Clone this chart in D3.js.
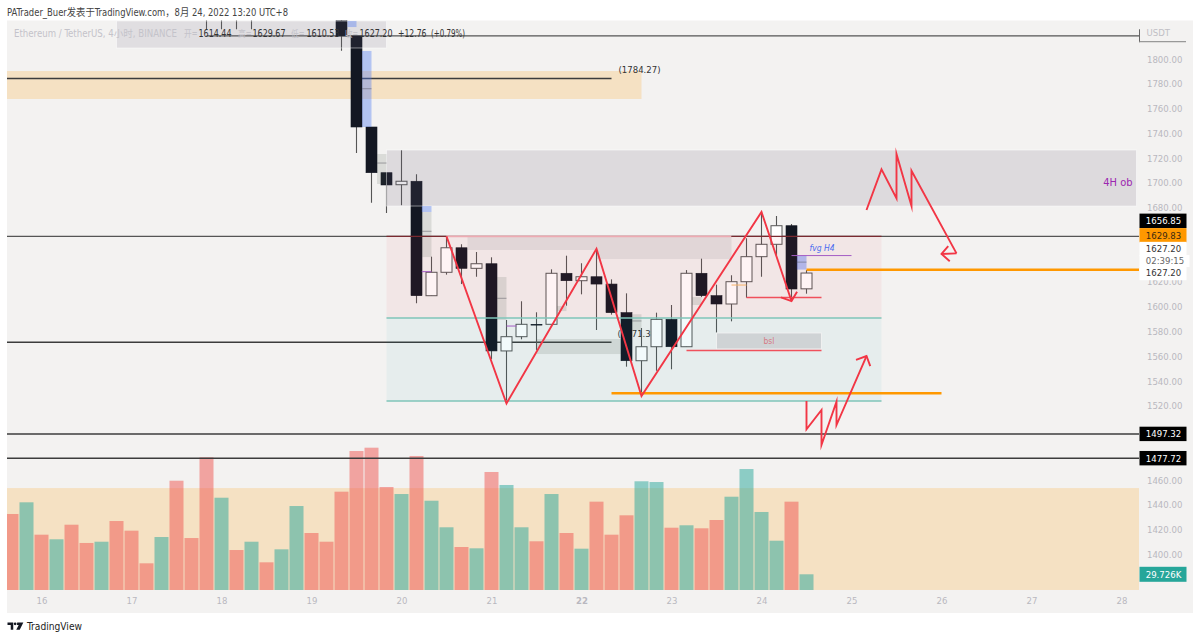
<!DOCTYPE html>
<html><head><meta charset="utf-8">
<script src="https://cdn.jsdelivr.net/npm/d3@7"></script>
<style>html,body{margin:0;padding:0;background:#fff}svg{display:block}text{font-family:"DejaVu Sans Condensed","DejaVu Sans","Noto Sans CJK SC",sans-serif;font-stretch:condensed}</style>
</head><body><svg id="c" width="1200" height="640"></svg>
<script>
// ---------- data ----------
const dayLabels = [16,17,18,19,20,21,22,23,24,25,26,27,28];
const dayIndex  = [0,6,12,18,24,30,36,42,48,54,60,66,72];
const priceTicks = [1800,1780,1760,1740,1720,1700,1680,1620,1600,1580,1560,1540,1520,1460,1440,1420,1400];

const candleIndex = [11,12,13,14,20,21,22,23,24,25,26,27,28,29,30,31,32,33,34,35,36,37,38,39,40,41,42,43,44,45,46,47,48,49,50,51];
const opens  = [1860,1860,1860,1860,1840,1818.6,1745.1,1708.2,1698.5,1701.3,1608.9,1627.8,1647.6,1631,1634.7,1564.3,1575.8,1585.8,1585.8,1627,1621,1624.2,1618.3,1595.2,1556.4,1567.7,1589.8,1567.7,1627,1608.9,1602.2,1620.2,1640.4,1650.4,1665.4,1614.44];
const closes = [1845,1850,1845,1850,1818.6,1745.1,1708.2,1698.3,1701.3,1608.9,1627.8,1647.6,1631,1634.7,1564.3,1575.8,1585.8,1585.4,1627,1621,1624.2,1618.3,1595.2,1556.4,1567.7,1589.8,1567.7,1627,1608.9,1602.2,1620.2,1640.4,1650.4,1665.4,1614.3,1627.2];
const highs  = [1870,1870,1870,1870,1850,1818.6,1745.1,1708.2,1726.5,1706.9,1640.4,1656.5,1650.4,1644.2,1639.9,1589.3,1604.4,1595.5,1630.2,1641.2,1635.1,1646.8,1622.1,1610.8,1582.8,1595.2,1601.4,1629.6,1638.8,1617.8,1625.4,1655.2,1676.7,1673.2,1666.8,1629.67];
const lows   = [1824,1824,1824,1824,1806.7,1724.1,1684,1675.7,1681.9,1602.8,1608.9,1625.9,1618.3,1624.2,1557.6,1522,1573.7,1565.1,1585.8,1600.8,1610,1581.2,1593.6,1551.6,1528.7,1548.3,1549.5,1567.7,1607.8,1579,1588.2,1607.3,1624.2,1641.8,1605.4,1610.53];

const volIndex = d3.range(-2,52);
const volumes = [143.9,166,104.7,96,123.6,89,91.4,130.6,112.3,50.5,100.3,206.9,98.4,251.2,174.7,75.7,91.4,52.4,77,159,107.9,91.4,186.1,263.1,269.4,195,181.7,253.7,169,118.7,81.4,78.9,223.4,198.8,118.7,92.2,181.7,107.9,78.2,167.2,104.7,141.4,205.8,204.4,117.9,122.5,116.8,132.5,176.6,229,147.7,93.3,167.2,29.726];
const volUp = [0,1,0,1,0,0,1,0,0,0,1,0,0,0,1,0,1,0,1,1,0,0,0,0,0,0,1,0,1,1,0,1,0,1,1,0,1,0,1,0,0,0,1,1,0,1,0,0,1,1,1,1,0,1];

// legend pieces: text, left edge, width
const legendText  = ["Ethereum / TetherUS, 4小时, BINANCE","开=","1614.44","高=","1629.67","低=","1610.53","收=","1627.20","+12.76","(+0.79%)"];
const legendLeft  = [14,184,198.5,238,252.5,291,306.5,345,359.5,398,431];
const legendWidth = [163,13.5,33,13.5,33,13.5,33,13,33,28.5,34];

// annotation zones: [i0, i1, priceTop, priceBottom]
const zoneBand1784 = [-2.3,40,1790.3,1767.7];
const zoneVolume   = [-2.3,73.2,1453.6,1371.3];
const zoneLegend   = [5,23,1830.7,1808.9];
const zone4H       = [23,73,1726.5,1681.3];
const zonePink     = [23,56,1656.7,1590.9];
const zoneTeal     = [23,56,1590.9,1523.9];
const zoneBsl      = [45,52,1578.8,1565.9];
const greyBoxes = [[22.37,23,1723.3,1699.1],[25.35,26,1676.5,1640.1],[30.37,31,1624,1589.3],[34.37,35,1600.6,1596.5],[33,38.63,1573.9,1561.8],[39.37,40,1593.9,1581.2],[43.37,44,1607.8,1601.4]];
const greyMids  = [[22.37,23,1716],[25.35,26,1660.9],[30.37,31,1606.8],[39.37,40,1588.5],[50.35,51,1636],[21.37,22,1776]];
const pinkBoxes = [[28.4,46,1656.7,1645.8],[37,46,1645.8,1638.5]];
const blueBoxes = [[20.4,21,1830.7,1825.8],[21.37,22,1806.5,1745.1],[25.35,26,1681.3,1676.5]];
const fvgBox    = [50.35,51,1641.3,1630];
const purpleLines = [[25.35,26,1628.3],[31,31.67,1584.4],[50,54,1641.3]];

// horizontal levels: [i0, i1, price]
const hThin  = [[-2.3,73.2,1656.85]];
const hThick = [[-2.3,38,1571.36],[-2.3,38,1784.27],[-2.3,73.2,1497.32],[-2.3,73.2,1477.72]];
const hTop   = [[11,73.2,1818.6]];
const hOrange= [[51,73.2,1629.83],[38,60,1530.1]];
const hOrangeShort = [[46,47,1617.5]];
const hRed   = [[47,52,1607.4],[43,52,1564.6]];

// hand-drawn paths: [i, price]
const pathM = [[27,1656.85],[31,1521.9],[37,1646.8],[40,1527.9],[48,1676.5],[50,1604.6]];
const arrowM = [[49.3,1607.6],[50,1604.6],[50.37,1612.1]];
const pathUp = [[55,1678.1],[56,1710.9],[57,1687.5],[57,1723.3],[58,1681.3],[58,1709.8],[61,1643.1]];
const arrowUp = [[60.45,1649],[60,1642.6],[60.55,1636.7]];
const arrowUp2 = [[60,1642.6],[61,1643.1]];
const pathLow = [[51,1523.9],[51,1501],[52,1516.6],[52,1488.4],[53,1523.3],[53,1504.5],[55,1560.2]];
const arrowLow = [[54.3,1557],[55,1560.2],[55.25,1552.1]];

// right-hand price tags: price shown, offset from its level, fill, text colour
const tagLabels = ["1656.85","1629.83","1627.20","1627.20","1497.32","1477.72"];
const tagPrices = [1656.85,1629.83,1627.2,1627.2,1497.32,1477.72];
const tagOffsets= [-15.5,-34.5,-24,0,0,0];
const tagFills  = ["#000","#ff9800","#fff","#fff","#000","#000"];
const tagText   = ["#fff","#3a2a10","#333","#333","#fff","#fff"];

// ---------- scales ----------
const x = d3.scaleLinear().domain([0,72]).range([41.5,1121.5]);
const y = d3.scaleLinear().domain([1800,1400]).range([59,554.44]);
const yVol = d3.scaleLinear().domain([0,269.4]).range([590,447.7]);

const svg = d3.select("#c");
svg.append("defs").append("clipPath").attr("id","plot").append("rect").attr("x",7).attr("y",20.5).attr("width",1132).attr("height",570);

// chart background
svg.append("rect").attr("x",7).attr("y",20.5).attr("width",1186).attr("height",592.5).attr("fill","#f3f2f1");

const plot = svg.append("g").attr("clip-path","url(#plot)");

function box(g,b,fill,stroke,sw){
  return g.append("rect").attr("x",x(b[0])).attr("y",y(b[2])).attr("width",x(b[1])-x(b[0])).attr("height",y(b[3])-y(b[2]))
    .attr("fill",fill).attr("stroke",stroke||"none").attr("stroke-width",sw||0);
}
function level(g,l,color,w){
  return g.append("line").attr("x1",x(l[0])).attr("x2",x(l[1])).attr("y1",y(l[2])).attr("y2",y(l[2])).attr("stroke",color).attr("stroke-width",w);
}
const line = d3.line().x(d=>x(d[0])).y(d=>y(d[1]));
function poly(g,pts,w){ return g.append("path").attr("d",line(pts)).attr("fill","none").attr("stroke","#f23645").attr("stroke-width",w||1.9).attr("stroke-linejoin","miter").attr("stroke-miterlimit",8); }

// band behind volume and 1784 band
box(plot,zoneVolume,"rgba(255,152,0,0.19)");
box(plot,zoneBand1784,"rgba(255,152,0,0.19)");

// volume bars
plot.selectAll("rect.vol").data(volumes).join("rect").attr("class","vol")
  .attr("x",(d,i)=>x(volIndex[i])-7).attr("width",14).attr("y",d=>yVol(d)).attr("height",d=>yVol(0)-yVol(d))
  .attr("fill",(d,i)=>volUp[i]?"rgba(38,166,154,0.5)":"rgba(239,83,80,0.5)");

// level text beneath candles
plot.append("text").attr("x",x(38)+7).attr("y",y(1784.27)-5).attr("font-size",9.5).attr("fill","#333").text("(1784.27)");
plot.append("text").attr("x",x(38)+6).attr("y",y(1571.36)-5).attr("font-size",9.5).attr("fill","#333").text("(1571.36)");

// levels beneath candles
hThin.forEach(l=>level(plot,l,"#555",1.2));
hThick.forEach(l=>level(plot,l,"#3c3c3c",1.5));
hTop.forEach(l=>level(plot,l,"#555",1.2));

// candles
const cg = plot.append("g");
candleIndex.forEach((c,i)=>{
  const up = closes[i]>=opens[i];
  cg.append("line").attr("x1",x(c)).attr("x2",x(c)).attr("y1",y(highs[i])).attr("y2",y(lows[i])).attr("stroke","#555").attr("stroke-width",1.1);
  const top=y(Math.max(opens[i],closes[i])), bot=y(Math.min(opens[i],closes[i]));
  cg.append("rect").attr("x",x(c)-5.5).attr("width",11).attr("y",top).attr("height",Math.max(bot-top,0.8))
    .attr("fill",up?"#ffffff":"#131722").attr("stroke",up?"#555":"#131722").attr("stroke-width",up?1:0.6);
});

// translucent zones over candles
box(plot,zoneLegend,"rgba(110,105,125,0.14)","rgba(255,255,255,.6)",0.8);
box(plot,zone4H,"rgba(103,95,121,0.16)","rgba(255,255,255,.6)",0.8);
box(plot,zonePink,"rgba(242,54,69,0.06)");
box(plot,zoneTeal,"rgba(0,151,167,0.05)");
greyBoxes.forEach(b=>box(plot,b,"rgba(90,100,90,0.16)"));
pinkBoxes.forEach(b=>box(plot,b,"rgba(110,95,110,0.12)"));
blueBoxes.forEach(b=>box(plot,b,"rgba(76,120,245,0.38)"));
box(plot,fvgBox,"rgba(60,90,235,0.35)");
box(plot,zoneBsl,"#cfd3d5","#f4f4f4",0.8);
greyMids.forEach(l=>level(plot,l,"rgba(90,90,100,.5)",1));
purpleLines.forEach(l=>level(plot,l,"#a45cc4",1));
level(plot,[23,56,1590.9],"#7fc4b8",1.3);
level(plot,[23,56,1523.9],"#7fc4b8",1.3);
level(plot,[23,27,1656.85],"#7a2a30",1.2);
level(plot,[27,46,1656.85],"#eeaab2",1.8);
level(plot,[46,56,1656.85],"#7a2a30",1.2);
hOrangeShort.forEach(l=>level(plot,l,"#f7b267",1));
hOrange.forEach(l=>level(plot,l,"#ff9800",2.4));
hRed.forEach(l=>level(plot,l,"#f0505c",1.6));

plot.append("text").attr("x",(x(zoneBsl[0])+x(zoneBsl[1]))/2).attr("y",y(1569.5)).attr("text-anchor","middle").attr("font-size",8.5).attr("fill","#d57b85").text("bsl");
plot.append("text").attr("x",x(51)+3).attr("y",y(1645)).attr("font-size",8.5).attr("font-style","italic").attr("fill","#4a6cf0").text("fvg H4");
plot.append("text").attr("x",x(73)-4).attr("y",y(1700)).attr("text-anchor","end").attr("dominant-baseline","middle").attr("font-size",11).attr("fill","#9c27b0").text("4H ob");

// red sketches
[pathM,arrowM,pathUp,arrowUp,arrowUp2,pathLow,arrowLow].forEach(p=>poly(plot,p));

// top legend
svg.selectAll("text.leg").data(legendText).join("text").attr("class","leg")
  .attr("x",(d,i)=>legendLeft[i]).attr("y",37).attr("font-size",9.6)
  .attr("textLength",(d,i)=>legendWidth[i]).attr("lengthAdjust","spacingAndGlyphs")
  .attr("fill",(d,i)=>(i===0||(i%2===1&&i<8))?"#c4c3ca":"#333").text(d=>d);

// title
svg.append("text").attr("x",7).attr("y",16).attr("font-size",10.2).attr("textLength",281).attr("lengthAdjust","spacingAndGlyphs").attr("fill","#444").text("PATrader_Buer发表于TradingView.com，8月 24, 2022 13:20 UTC+8");

// axes
const ay = d3.axisRight(y).tickValues(priceTicks).tickFormat(d3.format(".2f")).tickSize(0);
const gy = svg.append("g").attr("transform","translate(1147,0)").call(ay);
gy.select(".domain").remove();
gy.selectAll("text").attr("x",0).attr("font-size",9.5).attr("font-family",'"DejaVu Sans Condensed"').attr("fill","#b9b8bf");

const ax = d3.axisBottom(x).tickValues(dayIndex).tickFormat((d,i)=>dayLabels[i]).tickSize(0);
const gx = svg.append("g").attr("transform","translate(0,597)").call(ax);
gx.select(".domain").remove();
gx.selectAll("text").attr("y",0).attr("font-size",9.5).attr("font-family",'"DejaVu Sans Condensed"').attr("fill","#b9b8bf").attr("font-weight",(d,i)=>dayLabels[i]===22?"bold":"normal");

// USDT header
svg.append("text").attr("x",1146.5).attr("y",36).attr("font-size",9.5).attr("fill","#c0bfc5").text("USDT");
svg.append("line").attr("x1",x(73.2)).attr("x2",x(73.2)).attr("y1",y(1824)).attr("y2",y(1813.5)).attr("stroke","#666").attr("stroke-width",1);
svg.append("line").attr("x1",x(73.2)).attr("x2",x(76.3)).attr("y1",y(1814)).attr("y2",y(1814)).attr("stroke","#999").attr("stroke-width",1.2);

// price tags
tagLabels.forEach((t,i)=>{
  const cy=y(tagPrices[i])+tagOffsets[i];
  svg.append("rect").attr("x",x(73.2)).attr("y",cy-7.2).attr("width",47).attr("height",14.4).attr("fill",tagFills[i]);
  svg.append("text").attr("x",1163.5).attr("y",cy+3.4).attr("text-anchor","middle").attr("font-size",9.5).attr("fill",tagText[i]).text(t);
});
// countdown
const cdY=y(1627.2)-24+12;
svg.append("rect").attr("x",x(73.2)).attr("y",cdY-6).attr("width",50).attr("height",12).attr("fill","#fff");
svg.append("text").attr("x",1165).attr("y",cdY+3.4).attr("text-anchor","middle").attr("font-size",9.5).attr("fill","#666").text("02:39:15");

// volume tag
const vy=yVol(volumes[volumes.length-1]);
svg.append("rect").attr("x",x(73.2)).attr("y",vy-7.5).attr("width",47).attr("height",15).attr("fill","#26a69a");
svg.append("text").attr("x",1163.5).attr("y",vy+3.4).attr("text-anchor","middle").attr("font-size",9.5).attr("fill","#fff").text("29.726K");

// logo
const logo=svg.append("g").attr("transform","translate(7.5,622.5) scale(0.72)").attr("fill","#131722");
logo.append("path").attr("d","M0 0H8V10H4.5V3.5H0Z");
logo.append("circle").attr("cx",10.6).attr("cy",1.9).attr("r",1.9);
logo.append("path").attr("d","M13.5 0H22L17 10H12.2L15.5 3.5H13Z");
svg.append("text").attr("x",27).attr("y",630).attr("font-size",10.5).attr("textLength",55).attr("lengthAdjust","spacingAndGlyphs").attr("fill","#222").text("TradingView");
</script></body></html>
